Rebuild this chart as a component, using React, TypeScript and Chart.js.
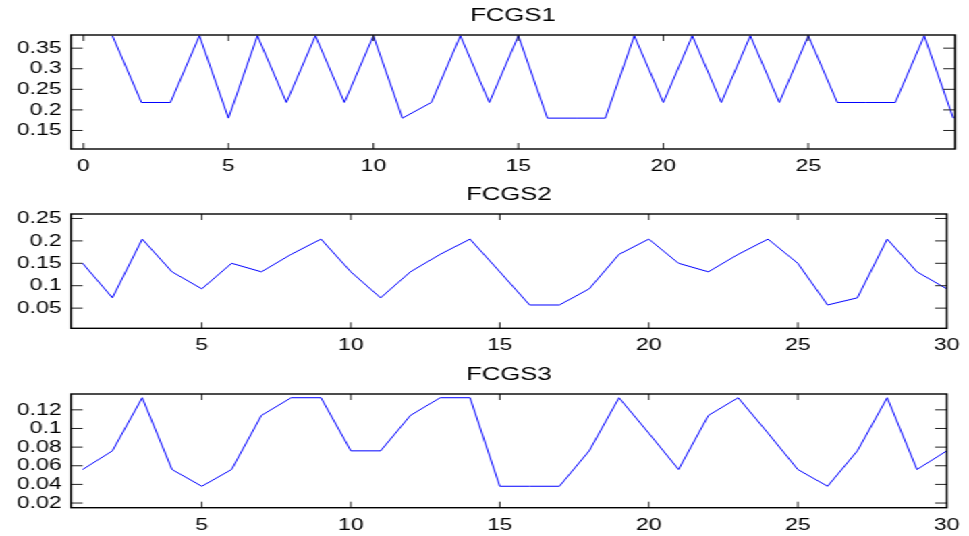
import React, { useEffect, useRef } from "react";
import { Chart, registerables } from "chart.js";

Chart.register(...registerables);

// ---- data ----
const xValues = [1, 2, 3, 4, 5, 6, 7, 8, 9, 10, 11, 12, 13, 14, 15, 16, 17, 18, 19, 20, 21, 22, 23, 24, 25, 26, 27, 28, 29, 30];

const fcgs1 = [0.38, 0.218, 0.218, 0.38, 0.18, 0.38, 0.218, 0.38, 0.218, 0.38, 0.18, 0.218, 0.38, 0.218, 0.38, 0.18, 0.18, 0.18, 0.38, 0.218, 0.38, 0.218, 0.38, 0.218, 0.38, 0.218, 0.218, 0.218, 0.38, 0.18];
const fcgs2 = [0.15, 0.073, 0.204, 0.131, 0.093, 0.15, 0.131, 0.17, 0.204, 0.131, 0.073, 0.131, 0.17, 0.204, 0.131, 0.057, 0.057, 0.093, 0.17, 0.204, 0.15, 0.131, 0.17, 0.204, 0.15, 0.057, 0.073, 0.204, 0.131, 0.093];
const fcgs3 = [0.056, 0.076, 0.133, 0.056, 0.038, 0.056, 0.114, 0.133, 0.133, 0.076, 0.076, 0.114, 0.133, 0.133, 0.038, 0.038, 0.038, 0.076, 0.133, 0.095, 0.056, 0.114, 0.133, 0.095, 0.056, 0.038, 0.076, 0.133, 0.056, 0.076];

const titles = ["FCGS1", "FCGS2", "FCGS3"];

const xTicks1 = [0, 5, 10, 15, 20, 25];
const xTicks23 = [5, 10, 15, 20, 25, 30];
const yTicks1 = [0.15, 0.2, 0.25, 0.3, 0.35];
const yTicks2 = [0.05, 0.1, 0.15, 0.2, 0.25];
const yTicks3 = [0.02, 0.04, 0.06, 0.08, 0.1, 0.12];

const xRange1 = [-0.43, 30.06];
const xRange23 = [0.61, 30];
const yRange1 = [0.105, 0.382];
const yRange2 = [0.005, 0.26];
const yRange3 = [0.015, 0.137];

// ---- layout (base, un-stretched coordinates) ----
const FULL_W = 969;
const BASE_W = 718;
const SX = FULL_W / BASE_W;
const FONT = "Arial, 'Liberation Sans', Helvetica, sans-serif";
const TITLE_SIZE = 19;
const TICK_SIZE = 17;
const Y_AXIS_W = 71 / SX;
const RIGHT_PAD = BASE_W - 955 / SX;
const Y_TICK_LEN = 11.7 / SX;
const X_TICK_LEN = 6;

type Panel = {
  title: string;
  ys: number[];
  xTicks: number[];
  yTicks: number[];
  xRange: number[];
  yRange: number[];
  top: number;
  height: number;
  titleCenter: number;
  areaTop: number;
  areaBottom: number;
};

const panels: Panel[] = [
  { title: titles[0], ys: fcgs1, xTicks: xTicks1, yTicks: yTicks1, xRange: xRange1, yRange: yRange1, top: 0, height: 180, titleCenter: 16, areaTop: 35, areaBottom: 149 },
  { title: titles[1], ys: fcgs2, xTicks: xTicks23, yTicks: yTicks2, xRange: xRange23, yRange: yRange2, top: 180, height: 180, titleCenter: 14.5, areaTop: 34, areaBottom: 148.3 },
  { title: titles[2], ys: fcgs3, xTicks: xTicks23, yTicks: yTicks3, xRange: xRange23, yRange: yRange3, top: 360, height: 176, titleCenter: 14.5, areaTop: 34, areaBottom: 147.7 },
];

const framePlugin = {
  id: "matlabFrame",
  afterDatasetsDraw(chart: any) {
    const { ctx, chartArea, scales } = chart;
    const { left, right, top, bottom } = chartArea;
    const xs = scales.x;
    const ys = scales.y;
    ctx.save();
    ctx.strokeStyle = "#222";
    ctx.lineWidth = 1;
    ctx.beginPath();
    xs.ticks.forEach((t: any) => {
      const px = xs.getPixelForValue(t.value);
      ctx.moveTo(px, bottom);
      ctx.lineTo(px, bottom - X_TICK_LEN);
      ctx.moveTo(px, top);
      ctx.lineTo(px, top + X_TICK_LEN);
    });
    ys.ticks.forEach((t: any) => {
      const py = ys.getPixelForValue(t.value);
      ctx.moveTo(left, py);
      ctx.lineTo(left + Y_TICK_LEN, py);
      ctx.moveTo(right, py);
      ctx.lineTo(right - Y_TICK_LEN, py);
    });
    ctx.stroke();
    ctx.strokeStyle = "#000";
    ctx.lineWidth = 1.4;
    ctx.strokeRect(left, top, right - left, bottom - top);
    ctx.restore();
  },
};

function SubPlot({ p }: { p: Panel }) {
  const ref = useRef<HTMLCanvasElement | null>(null);
  useEffect(() => {
    if (!ref.current) return;
    const lineH = TITLE_SIZE * 1.2;
    const padTop = p.titleCenter - lineH / 2;
    const chart = new Chart(ref.current, {
      type: "line",
      data: {
        datasets: [
          {
            data: xValues.map((x, i) => ({ x, y: p.ys[i] })),
            borderColor: "#0000ff",
            borderWidth: 1,
            pointRadius: 0,
            tension: 0,
            fill: false,
          },
        ],
      },
      options: {
        responsive: false,
        animation: false,
        events: [],
        layout: { padding: { left: 0, right: RIGHT_PAD, top: 0, bottom: 0 } },
        plugins: {
          legend: { display: false },
          tooltip: { enabled: false },
          title: {
            display: true,
            text: p.title,
            fullSize: false,
            color: "#000",
            font: { family: FONT, size: TITLE_SIZE, weight: "normal" as any },
            padding: { top: padTop, bottom: p.areaTop - padTop - lineH },
          },
        },
        scales: {
          x: {
            type: "linear",
            min: p.xRange[0],
            max: p.xRange[1],
            grid: { display: false, drawTicks: false },
            border: { display: false },
            afterBuildTicks: (s: any) => {
              s.ticks = p.xTicks.map((v) => ({ value: v }));
            },
            afterFit: (s: any) => {
              s.height = p.height - p.areaBottom;
            },
            ticks: {
              color: "#000",
              padding: 7,
              maxRotation: 0,
              autoSkip: false,
              font: { family: FONT, size: TICK_SIZE },
              callback: (v: any) => String(v),
            },
          },
          y: {
            type: "linear",
            min: p.yRange[0],
            max: p.yRange[1],
            grid: { display: false, drawTicks: false },
            border: { display: false },
            afterBuildTicks: (s: any) => {
              s.ticks = p.yTicks.map((v) => ({ value: v }));
            },
            afterFit: (s: any) => {
              s.width = Y_AXIS_W;
            },
            ticks: {
              color: "#000",
              padding: 6.9,
              autoSkip: false,
              font: { family: FONT, size: TICK_SIZE },
              callback: (v: any) => String(v),
            },
          },
        },
      },
      plugins: [framePlugin],
    } as any);
    return () => chart.destroy();
  }, [p]);
  return (
    <canvas
      ref={ref}
      width={BASE_W}
      height={p.height}
      style={{ position: "absolute", left: 0, top: p.top, width: BASE_W, height: p.height }}
    />
  );
}

export default function App() {
  useEffect(() => {
    document.documentElement.style.overflow = "hidden";
    document.body.style.margin = "0";
  }, []);
  return (
    <div
      style={{
        position: "absolute",
        left: 0,
        top: 0,
        width: BASE_W,
        height: 536,
        background: "#fff",
        transform: `scaleX(${SX})`,
        transformOrigin: "0 0",
      }}
    >
      {panels.map((p) => (
        <SubPlot key={p.title} p={p} />
      ))}
    </div>
  );
}
